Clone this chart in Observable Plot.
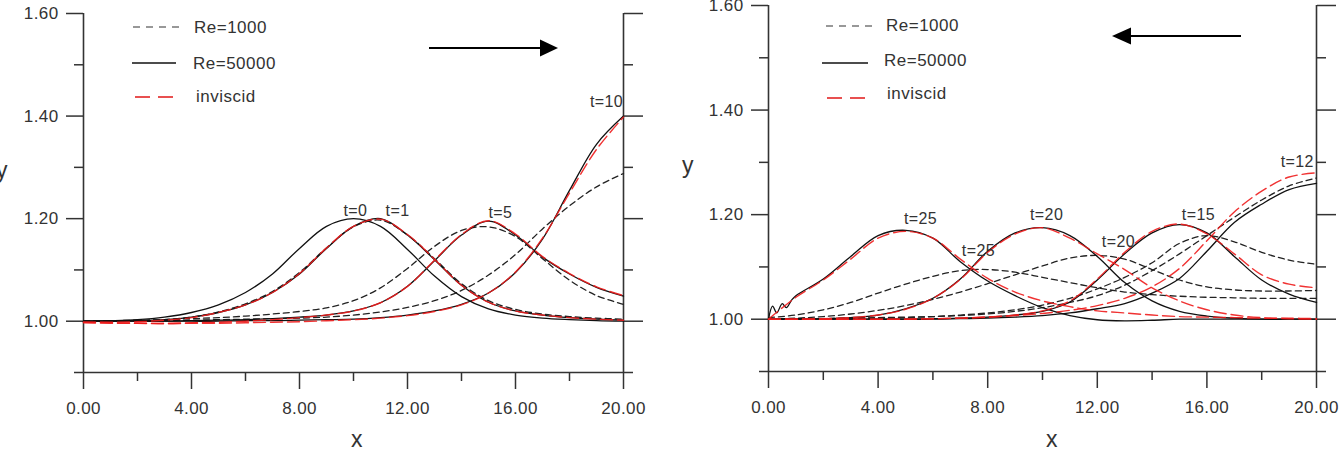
<!DOCTYPE html>
<html><head><meta charset="utf-8">
<script src="https://cdn.jsdelivr.net/npm/d3@7"></script>
<script src="https://cdn.jsdelivr.net/npm/@observablehq/plot@0.6"></script>
<style>
html,body{margin:0;padding:0;background:#fff;}
#wrap{position:relative;width:1342px;height:458px;overflow:hidden;background:#fff;}
#left,#right{position:absolute;top:0;}
#left{left:0px}
#right{left:671px}
</style></head><body><div id="wrap"><div id="left"></div><div id="right"></div></div>
<script>
// ---------- data ----------
const X = [0,1,2,3,4,5,6,7,8,9,10,11,12,13,14,15,16,17,18,19,20];
const xMajor = [0,4,8,12,16,20];
const xMinor = [2,6,10,14,18];
const yMajor = [1.0,1.2,1.4,1.6];
const yMinor = [0.9,1.1,1.3,1.5];
const legendLabels = ["Re=1000","Re=50000","inviscid"];

// left panel (wave moving right)
const L_t0_solid  = [1.000,1.001,1.003,1.008,1.017,1.032,1.056,1.092,1.142,1.185,1.200,1.185,1.140,1.088,1.048,1.024,1.012,1.006,1.003,1.001,1.000];
const L_t1_solid  = [1.000,1.000,1.001,1.003,1.008,1.017,1.032,1.056,1.092,1.142,1.185,1.200,1.168,1.120,1.070,1.037,1.020,1.012,1.007,1.004,1.002];
const L_t1_dash   = [1.000,1.000,1.001,1.003,1.008,1.018,1.034,1.058,1.095,1.143,1.184,1.197,1.168,1.122,1.073,1.040,1.023,1.014,1.009,1.006,1.004];
const L_t1_red    = [0.998,0.998,0.999,1.002,1.007,1.017,1.032,1.056,1.093,1.143,1.185,1.199,1.169,1.121,1.070,1.037,1.020,1.012,1.007,1.004,1.002];
const L_t5_solid  = [1.000,1.000,1.000,1.000,1.001,1.002,1.003,1.005,1.008,1.012,1.020,1.036,1.068,1.118,1.168,1.195,1.168,1.125,1.092,1.066,1.049];
const L_t5_red    = [0.998,0.997,0.996,0.996,0.997,0.998,1.000,1.003,1.007,1.012,1.020,1.036,1.068,1.119,1.169,1.196,1.170,1.126,1.093,1.067,1.050];
const L_t5_dash   = [1.000,1.001,1.002,1.003,1.005,1.007,1.010,1.014,1.019,1.026,1.040,1.065,1.103,1.146,1.177,1.184,1.165,1.122,1.080,1.050,1.033];
const L_t10_solid = [1.000,1.000,1.000,1.000,1.000,1.000,1.001,1.001,1.002,1.003,1.004,1.007,1.012,1.020,1.033,1.055,1.095,1.160,1.255,1.345,1.400];
const L_t10_red   = [0.997,0.996,0.996,0.995,0.996,0.996,0.997,0.998,0.999,1.001,1.003,1.006,1.011,1.019,1.032,1.055,1.096,1.162,1.250,1.335,1.398];
const L_t10_dash  = [1.000,1.000,1.001,1.001,1.002,1.003,1.004,1.005,1.006,1.008,1.012,1.018,1.027,1.040,1.060,1.090,1.130,1.180,1.225,1.262,1.288];

// right panel (reflected wave moving left)
const R_t12_solid = [1.000,1.000,1.000,1.000,1.000,1.000,1.000,1.001,1.002,1.004,1.007,1.012,1.020,1.030,1.050,1.078,1.130,1.185,1.220,1.248,1.260];
const R_t12_red   = [1.000,1.000,1.000,1.000,1.000,1.000,1.001,1.002,1.004,1.007,1.011,1.017,1.026,1.040,1.062,1.097,1.150,1.205,1.245,1.272,1.280];
const R_t12_dash  = [1.000,1.001,1.001,1.002,1.003,1.004,1.005,1.007,1.010,1.015,1.022,1.032,1.045,1.065,1.093,1.125,1.160,1.195,1.228,1.255,1.270];
const R_t15_solid = [1.000,1.000,1.000,1.000,1.000,1.000,1.001,1.002,1.004,1.008,1.015,1.033,1.075,1.125,1.165,1.181,1.165,1.120,1.075,1.048,1.032];
const R_t15_red   = [1.000,1.000,1.000,1.000,1.000,1.000,1.001,1.002,1.004,1.008,1.016,1.035,1.077,1.128,1.168,1.182,1.163,1.125,1.085,1.067,1.060];
const R_t15_dash  = [1.000,1.001,1.001,1.002,1.002,1.003,1.005,1.008,1.012,1.018,1.027,1.040,1.058,1.080,1.108,1.145,1.160,1.148,1.128,1.113,1.105];
const R_t20_solid = [1.000,1.000,1.001,1.003,1.008,1.020,1.040,1.077,1.130,1.165,1.175,1.160,1.120,1.070,1.035,1.015,1.006,1.002,1.000,1.000,1.000];
const R_t20_red   = [1.000,1.000,1.001,1.003,1.008,1.019,1.040,1.076,1.128,1.163,1.175,1.155,1.125,1.095,1.060,1.035,1.018,1.008,1.003,1.001,1.000];
const R_t20_dash  = [1.000,1.002,1.005,1.010,1.017,1.026,1.038,1.052,1.068,1.085,1.102,1.117,1.122,1.115,1.095,1.075,1.062,1.056,1.054,1.054,1.055];
const X25 = [0,0.15,0.3,0.5,0.65,0.85,1,2,3,4,5,6,7,8,9,10,11,12,13,14,15,16,17,18,19,20];
const R_t25_solid = [1.000,1.025,1.012,1.030,1.022,1.037,1.045,1.077,1.120,1.160,1.170,1.155,1.110,1.073,1.045,1.022,1.007,0.999,0.997,0.998,1.000,1.000,1.000,1.000,1.000,1.000];
const R_t25_red   = [1.000,1.042,1.075,1.115,1.155,1.168,1.155,1.115,1.078,1.052,1.035,1.024,1.016,1.012,1.008,1.005,1.004,1.003,1.002,1.002,1.001];
const R_t25_dash  = [1.003,1.008,1.018,1.032,1.050,1.067,1.082,1.093,1.095,1.090,1.080,1.070,1.060,1.052,1.047,1.044,1.042,1.041,1.040,1.040,1.040];

// time labels
const labL_text = ["t=0","t=1","t=5","t=10"];
const labL_x = [10.07, 11.63, 15.44, 19.37];
const labL_y = [1.216, 1.216, 1.212, 1.427];
const labR_text = ["t=25","t=25","t=20","t=20","t=15","t=12"];
const labR_x = [5.55, 7.66, 10.15, 12.77, 15.69, 19.3];
const labR_y = [1.191, 1.131, 1.200, 1.147, 1.200, 1.301];

// ---------- drawing ----------
const FONT = '"Liberation Sans", Arial, Helvetica, sans-serif';
const INK = "#333";
const RED = "#ee1c1c";

function rowsOf(series) {
  const rows = [];
  series.forEach((s, i) => s.ys.forEach((y, j) => rows.push({x: s.xs[j], y, id: i, kind: s.kind})));
  return rows;
}

function makePanel(p) {
  const rows = rowsOf(p.series);
  const labels = p.labText.map((t, i) => ({text: t, x: p.labX[i], y: p.labY[i]}));
  const svg = Plot.plot({
    width: 671, height: 458,
    marginLeft: p.ml, marginRight: p.mr, marginTop: p.mt, marginBottom: p.mb,
    x: {domain: [0, 20]},
    y: {domain: [0.9, 1.6]},
    style: {fontFamily: FONT, fontSize: "17px", color: INK, background: "transparent", overflow: "visible", letterSpacing: "0.4px"},
    marks: [
      Plot.axisX({ticks: xMajor, tickSize: 17, tickPadding: 12, tickFormat: d3.format(".2f"), label: null, strokeWidth: 1.5, fontSize: 17}),
      Plot.axisX({ticks: xMinor, tickSize: 9, tickFormat: () => "", label: null, strokeWidth: 1.5}),
      Plot.axisY({anchor: "left", ticks: yMajor, tickSize: 17, tickPadding: 8, tickFormat: d3.format(".2f"), label: null, strokeWidth: 1.5, fontSize: 17}),
      Plot.axisY({anchor: "left", ticks: yMinor, tickSize: 9, tickFormat: () => "", label: null, strokeWidth: 1.5}),
      Plot.axisY({anchor: "right", ticks: yMajor, tickSize: 19, tickFormat: () => "", label: null, strokeWidth: 1.5}),
      Plot.axisY({anchor: "right", ticks: yMinor, tickSize: 9, tickFormat: () => "", label: null, strokeWidth: 1.5}),
      Plot.ruleX([0, 20], {y1: 0.9, y2: 1.6, stroke: INK, strokeWidth: 1.6}),
      Plot.ruleY([0.9], {x1: 0, x2: 20, stroke: INK, strokeWidth: 1.6}),
      Plot.line(rows.filter(d => d.kind === "dash"), {x: "x", y: "y", z: "id", curve: "catmull-rom", stroke: "#222", strokeWidth: 1.3, strokeDasharray: "6,4"}),
      Plot.line(rows.filter(d => d.kind === "solid"), {x: "x", y: "y", z: "id", curve: "catmull-rom", stroke: "#111", strokeWidth: 1.3}),
      Plot.line(rows.filter(d => d.kind === "red"), {x: "x", y: "y", z: "id", curve: "catmull-rom", stroke: RED, strokeWidth: 1.4, strokeDasharray: "12,5", strokeOpacity: 0.9}),
      Plot.text(labels, {x: "x", y: "y", text: "text", fontSize: 16, fill: INK, textAnchor: "middle"})
    ]
  });
  const g = d3.select(svg).append("g").attr("font-family", FONT).attr("text-anchor", "start");
  // legend
  const kinds = [
    {stroke: "#777", dash: "7,6", w: 1.6},
    {stroke: "#111", dash: null, w: 1.5},
    {stroke: "#e85050", dash: "15,8", w: 2}
  ];
  p.legend.forEach((L, i) => {
    const k = kinds[i];
    const ln = g.append("line").attr("x1", L.x1).attr("x2", L.x2).attr("y1", L.y).attr("y2", L.y)
      .attr("stroke", k.stroke).attr("stroke-width", k.w);
    if (k.dash) ln.attr("stroke-dasharray", k.dash);
    g.append("text").attr("x", L.tx).attr("y", L.ty).attr("dy", "0.35em").attr("text-anchor", "start")
      .attr("font-size", 17).attr("fill", INK).attr("letter-spacing", "0.5px").text(legendLabels[i]);
  });
  // arrow
  const A = p.arrow;
  g.append("line").attr("x1", A.x0).attr("x2", A.xb).attr("y1", A.y).attr("y2", A.y)
    .attr("stroke", "#000").attr("stroke-width", 2);
  g.append("path").attr("d", `M${A.xt},${A.y} L${A.xb},${A.y - 8.5} L${A.xb},${A.y + 8.5} Z`).attr("fill", "#000");
  // axis titles
  g.append("text").attr("x", p.xt.x).attr("y", p.xt.y).attr("text-anchor", "middle")
    .attr("font-size", 23).attr("fill", INK).text("x");
  g.append("text").attr("x", p.yt.x).attr("y", p.yt.y).attr("text-anchor", "middle")
    .attr("font-size", 23).attr("fill", INK).text("y");
  return svg;
}

const left = makePanel({
  ml: 83, mr: 48, mt: 13, mb: 86,
  series: [
    {xs: X, ys: L_t0_solid, kind: "solid"},
    {xs: X, ys: L_t1_dash, kind: "dash"},
    {xs: X, ys: L_t1_solid, kind: "solid"},
    {xs: X, ys: L_t1_red, kind: "red"},
    {xs: X, ys: L_t5_dash, kind: "dash"},
    {xs: X, ys: L_t5_solid, kind: "solid"},
    {xs: X, ys: L_t5_red, kind: "red"},
    {xs: X, ys: L_t10_dash, kind: "dash"},
    {xs: X, ys: L_t10_solid, kind: "solid"},
    {xs: X, ys: L_t10_red, kind: "red"}
  ],
  labText: labL_text, labX: labL_x, labY: labL_y,
  legend: [
    {x1: 133, x2: 180, y: 27, tx: 194, ty: 27},
    {x1: 132, x2: 176, y: 63, tx: 193, ty: 63},
    {x1: 135, x2: 180, y: 97, tx: 196, ty: 96}
  ],
  arrow: {x0: 429, xb: 540, xt: 558, y: 48},
  xt: {x: 357, y: 447},
  yt: {x: 2, y: 178}
});
document.getElementById("left").appendChild(left);

const right = makePanel({
  ml: 97, mr: 26, mt: 5, mb: 87,
  series: [
    {xs: X, ys: R_t12_dash, kind: "dash"},
    {xs: X, ys: R_t12_solid, kind: "solid"},
    {xs: X, ys: R_t12_red, kind: "red"},
    {xs: X, ys: R_t15_dash, kind: "dash"},
    {xs: X, ys: R_t15_solid, kind: "solid"},
    {xs: X, ys: R_t15_red, kind: "red"},
    {xs: X, ys: R_t20_dash, kind: "dash"},
    {xs: X, ys: R_t20_solid, kind: "solid"},
    {xs: X, ys: R_t20_red, kind: "red"},
    {xs: X, ys: R_t25_dash, kind: "dash"},
    {xs: X25, ys: R_t25_solid, kind: "solid"},
    {xs: X, ys: R_t25_red, kind: "red"}
  ],
  labText: labR_text, labX: labR_x, labY: labR_y,
  legend: [
    {x1: 155, x2: 202, y: 26, tx: 215, ty: 25},
    {x1: 151, x2: 197, y: 63, tx: 213, ty: 60},
    {x1: 156, x2: 201, y: 98, tx: 216, ty: 93}
  ],
  arrow: {x0: 570, xb: 460, xt: 441, y: 36},
  xt: {x: 381, y: 447},
  yt: {x: 17, y: 173}
});
document.getElementById("right").appendChild(right);
</script>
</body></html>
